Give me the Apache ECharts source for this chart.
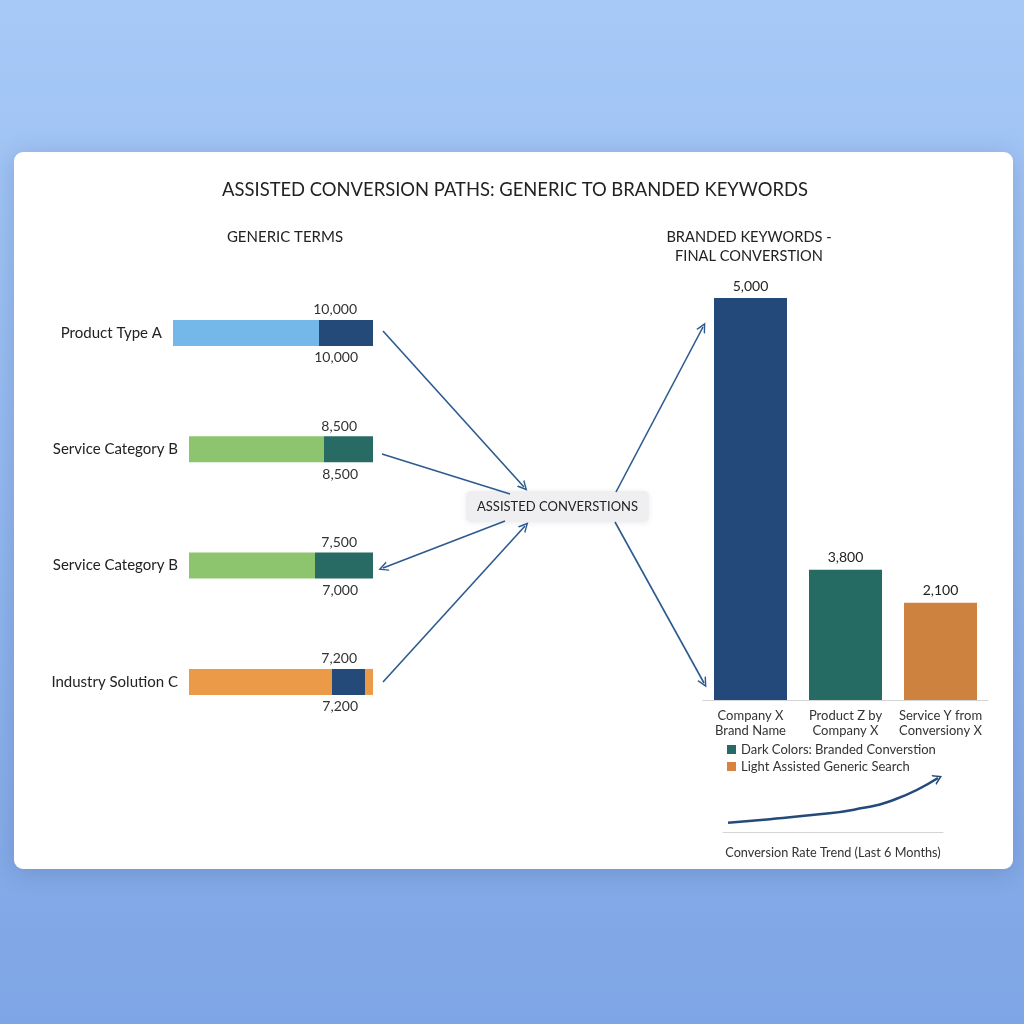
<!DOCTYPE html>
<html>
<head>
	<meta charset="utf-8">
	<script src="https://cdn.jsdelivr.net/npm/echarts@6/dist/echarts.min.js"></script>
	<style>
		html, body { margin: 0; padding: 0; }
	</style>
</head>
<body>
	<div id="main" style="width:1024px;height:1024px;"></div>
</body>
<script type="text/javascript">
// generic terms (left side)
var genericTerms = ['Product Type A', 'Service Category B', 'Service Category B', 'Industry Solution C'];
var genericPart = [7300, 6750, 6300, 7150];
var assistedPart = [2700, 2450, 2900, 1650];
var tailPart = [0, 0, 0, 400];
var topLabels = ['10,000', '8,500', '7,500', '7,200'];
var bottomLabels = ['10,000', '8,500', '7,000', '7,200'];
var lightColors = ['#74b8ea', '#8dc56f', '#8dc56f', '#eb9a48'];
var darkColors = ['#244a7a', '#276b64', '#276b64', '#244a7a'];

// branded keywords (right side)
var brandedNames = ['Company X\nBrand Name', 'Product Z by\nCompany X', 'Service Y from\nConversiony X'];
var brandedValues = [5000, 1620, 1210];
var brandedLabels = ['5,000', '3,800', '2,100'];
var brandedColors = ['#23497a', '#256a63', '#cd8240'];

// conversion rate trend, last 6 months
var trendRate = [2.0, 2.19, 2.41, 2.7, 3.27, 4.4];

// flow arrows [from, to, arrowAtEnd]
var flowArrows = [
	[[383, 331], [524, 487], true],
	[[382, 454], [510, 494], false],
	[[505, 521], [383, 568], true],
	[[383, 682], [525, 526], true],
	[[616, 492], [703, 327], true],
	[[615, 522], [704, 683], true]
];

var FONT = 'Lato';
var chevron = 'path://M0,10 L5,0 L10,10 L8.4,10 L5,3.2 L1.6,10 Z';

function sum3(i){
	return genericPart[i] + assistedPart[i] + tailPart[i];
}

var myChart = echarts.init(document.getElementById('main'));

var option = {
	backgroundColor: {
		type: 'linear', x: 0, y: 0, x2: 0, y2: 1,
		colorStops: [{offset: 0, color: '#a6c9f7'}, {offset: 1, color: '#7ea5e5'}]
	},
	animation: false,
	textStyle: { fontFamily: FONT },
	title: [{
		text: 'ASSISTED CONVERSION PATHS: GENERIC TO BRANDED KEYWORDS',
		left: 515, top: 181, textAlign: 'center', padding: 0,
		textStyle: { fontSize: 18.4, fontWeight: 'normal', color: '#222', fontFamily: FONT }
	}, {
		text: 'GENERIC TERMS',
		left: 285, top: 230, textAlign: 'center', padding: 0,
		textStyle: { fontSize: 15, fontWeight: 'normal', color: '#222', fontFamily: FONT }
	}, {
		text: 'BRANDED KEYWORDS -\nFINAL CONVERSTION',
		left: 749, top: 228, textAlign: 'center', padding: 0,
		textStyle: { fontSize: 14.6, fontWeight: 'normal', color: '#222', lineHeight: 19, fontFamily: FONT }
	}],
	graphic: [{
		type: 'rect', z: -10,
		shape: { x: 14, y: 152, width: 999, height: 717, r: 9 },
		style: { fill: '#fff', shadowBlur: 24, shadowColor: 'rgba(20,40,90,0.18)', shadowOffsetY: 4 }
	}, {
		type: 'group', z: 100, x: 466, y: 491,
		children: [{
			type: 'rect',
			shape: { x: 0, y: 0, width: 183, height: 31, r: 5 },
			style: { fill: '#efeff1', shadowBlur: 6, shadowColor: 'rgba(0,0,0,0.08)', shadowOffsetY: 1 }
		}, {
			type: 'text', x: 91.5, y: 15.5,
			style: { text: 'ASSISTED CONVERSTIONS', fill: '#222', font: '13px ' + FONT, align: 'center', verticalAlign: 'middle' }
		}]
	}],
	legend: {
		orient: 'vertical', left: 727, top: 743,
		icon: 'rect', itemWidth: 9, itemHeight: 9, itemGap: 4, itemTextGap: 6,
		padding: 0,
		textStyle: { fontSize: 13, color: '#333', fontFamily: FONT },
		data: ['Dark Colors: Branded Converstion', 'Light Assisted Generic Search']
	},
	grid: [
		{ left: 173, top: 274.8, width: 200, height: 465.3 },
		{ left: 703, top: 298, width: 285, height: 402 },
		{ left: 723, top: 778, width: 220, height: 54 },
		{ left: 0, top: 0, width: 1024, height: 1024 }
	],
	xAxis: [
		{ gridIndex: 0, type: 'value', min: 0, max: 10000, inverse: true, show: false },
		{ gridIndex: 1, type: 'category', data: brandedNames,
			axisLine: { lineStyle: { color: '#d4d4d4' } }, axisTick: { show: false },
			axisLabel: { color: '#333', fontSize: 13, lineHeight: 15, margin: 8, interval: 0, fontFamily: FONT } },
		{ gridIndex: 2, type: 'value', min: -0.12, max: 5.12,
			name: 'Conversion Rate Trend (Last 6 Months)', nameLocation: 'middle', nameGap: 14,
			nameTextStyle: { fontSize: 12.7, color: '#333', fontFamily: FONT },
			axisLine: { show: true, onZero: false, lineStyle: { color: '#d4d4d4' } },
			axisTick: { show: false }, axisLabel: { show: false }, splitLine: { show: false } },
		{ gridIndex: 3, type: 'value', min: 0, max: 1024, show: false }
	],
	yAxis: [
		{ gridIndex: 0, type: 'category', data: genericTerms, inverse: true, show: false },
		{ gridIndex: 1, type: 'value', min: 0, max: 5000, show: false },
		{ gridIndex: 2, type: 'value', min: 1.5, max: 4.4, show: false },
		{ gridIndex: 3, type: 'value', min: 0, max: 1024, inverse: true, show: false }
	],
	series: [{
		name: 'tail', type: 'bar', xAxisIndex: 0, yAxisIndex: 0, stack: 'g',
		barWidth: 26, barGap: '-100%',
		itemStyle: { color: lightColors[3] },
		data: tailPart
	}, {
		name: 'assisted', type: 'bar', xAxisIndex: 0, yAxisIndex: 0, stack: 'g',
		barWidth: 26, barGap: '-100%',
		data: assistedPart.map(function (v, i) {
			return { value: v, itemStyle: { color: darkColors[i] } };
		})
	}, {
		name: 'generic', type: 'bar', xAxisIndex: 0, yAxisIndex: 0, stack: 'g',
		barWidth: 26, barGap: '-100%',
		label: {
			show: true, position: 'left', distance: 11,
			color: '#222', fontSize: 15, fontFamily: FONT,
			formatter: function (p) { return genericTerms[p.dataIndex]; }
		},
		data: genericPart.map(function (v, i) {
			return { value: v, itemStyle: { color: lightColors[i] } };
		})
	}, {
		name: 'topLabel', type: 'bar', xAxisIndex: 0, yAxisIndex: 0, silent: true,
		barWidth: 26, barGap: '-100%',
		itemStyle: { color: 'rgba(0,0,0,0)' },
		label: {
			show: true, position: ['100%', 0], align: 'right', verticalAlign: 'bottom',
			offset: [-16, -3], color: '#333', fontSize: 14, fontFamily: FONT,
			formatter: function (p) { return topLabels[p.dataIndex]; }
		},
		data: genericPart.map(function (v, i) { return sum3(i); })
	}, {
		name: 'bottomLabel', type: 'bar', xAxisIndex: 0, yAxisIndex: 0, silent: true,
		barWidth: 26, barGap: '-100%',
		itemStyle: { color: 'rgba(0,0,0,0)' },
		label: {
			show: true, position: ['100%', '100%'], align: 'right', verticalAlign: 'top',
			offset: [-15, 5], color: '#333', fontSize: 14, fontFamily: FONT,
			formatter: function (p) { return bottomLabels[p.dataIndex]; }
		},
		data: genericPart.map(function (v, i) { return sum3(i); })
	}, {
		name: 'branded', type: 'bar', xAxisIndex: 1, yAxisIndex: 1,
		barWidth: 73,
		label: {
			show: true, position: 'top', distance: 5,
			color: '#222', fontSize: 14, fontFamily: FONT,
			formatter: function (p) { return brandedLabels[p.dataIndex]; }
		},
		data: brandedValues.map(function (v, i) {
			return { value: v, itemStyle: { color: brandedColors[i] } };
		})
	}, {
		name: 'trend', type: 'line', xAxisIndex: 2, yAxisIndex: 2,
		smooth: true, symbol: 'none',
		lineStyle: { color: '#244a7a', width: 2.5 },
		itemStyle: { color: '#244a7a' },
		data: trendRate.map(function (v, i) {
			if (i === trendRate.length - 1) {
				return { value: [i, v], symbol: chevron, symbolSize: [11, 9], symbolRotate: -64 };
			}
			return [i, v];
		})
	}, {
		name: 'Dark Colors: Branded Converstion', type: 'line', xAxisIndex: 2, yAxisIndex: 2,
		itemStyle: { color: '#256a63' }, data: []
	}, {
		name: 'Light Assisted Generic Search', type: 'line', xAxisIndex: 2, yAxisIndex: 2,
		itemStyle: { color: '#d6843f' }, data: []
	}, {
		name: 'flow', type: 'lines', coordinateSystem: 'cartesian2d', xAxisIndex: 3, yAxisIndex: 3,
		silent: true, z: 5,
		lineStyle: { color: '#2c5a8f', width: 1.6, opacity: 1 },
		data: flowArrows.map(function (a) {
			return {
				coords: [a[0], a[1]],
				symbol: ['none', a[2] ? chevron : 'none'],
				symbolSize: 10
			};
		})
	}]
};

myChart.setOption(option);
</script>
</html>
